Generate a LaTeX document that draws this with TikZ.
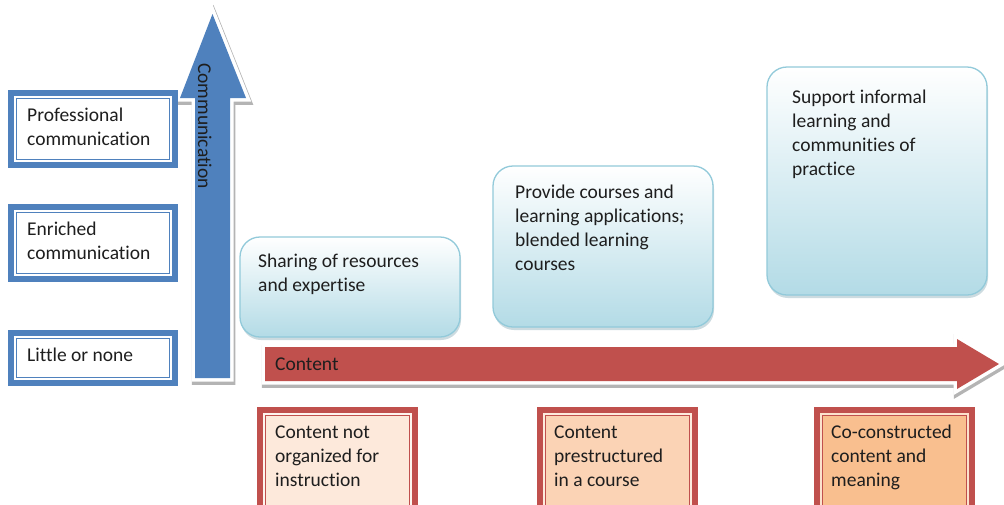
\documentclass[tikz,border=0pt]{standalone}
\usepackage{fontspec}
\setmainfont{Carlito}[Ligatures={NoCommon,NoContextual}]
\usetikzlibrary{shadows}

\definecolor{BlueC}{HTML}{4F81BD}
\definecolor{RedC}{HTML}{C0504D}
\definecolor{CyanBot}{HTML}{B3DBE6}
\definecolor{CyanEdge}{HTML}{92CADA}
\definecolor{CyanShadow}{HTML}{6E9AA8}
\definecolor{ArrowShadow}{HTML}{B4B4B4}
\definecolor{PeachA}{HTML}{FDE9DB}
\definecolor{PeachB}{HTML}{FBD3B5}
\definecolor{PeachC}{HTML}{F9BF8F}
\definecolor{TextC}{HTML}{1E1E1E}

% strut that fixes the height of a label's first line
\newcommand{\lnstrut}{\rule{0pt}{16pt}}

% outlines of the two axis arrows
\def\commarrow{(195,378) -- (195,98) -- (180,98) -- (212.5,14) -- (246,98) -- (230,98) -- (230,378) -- cycle}
\def\contarrow{(265,347) -- (957,347) -- (957,339) -- (999,364) -- (957,389) -- (957,381) -- (265,381) -- cycle}

\begin{document}
\begin{tikzpicture}[x=1pt,y=-1pt,
  txt/.style={font=\fontsize{19.5}{24}\selectfont, text=TextC, inner sep=0pt,
              anchor=north west, align=left},
  levelbox/.style={fill=BlueC, inner sep=0pt, minimum width=170pt},
  stagebox/.style={rounded corners=20pt, draw=CyanEdge, line width=1.3pt,
              top color=white, bottom color=CyanBot, inner sep=0pt,
              minimum width=220pt,
              drop shadow={shadow xshift=1pt, shadow yshift=-3pt,
                           opacity=0.35, fill=CyanShadow}},
  contentbox/.style={fill=RedC, inner sep=0pt, minimum width=161pt,
              minimum height=110pt},
  armshadow/.style={draw=ArrowShadow, fill=ArrowShadow, line width=8.5pt,
              line join=miter, shift={(1,2.5)}},
  armrim/.style={draw=white, fill=white, line width=7pt, line join=miter}
]
\fill[white] (0,0) rectangle (1004,504);
\useasboundingbox (0,0) rectangle (1004,504);
\clip (0,0) rectangle (1004,504);

% ---- vertical axis: communication ----
\draw[armshadow] \commarrow;
\draw[armrim] \commarrow;
\fill[BlueC] \commarrow;
\node[txt, rotate=-90, anchor=base west] (commlabel) at (198,63) {Communication};

% ---- horizontal axis: content ----
\draw[armshadow] \contarrow;
\draw[armrim] \contarrow;
\fill[RedC] \contarrow;
\node[txt, anchor=base west] (contlabel) at (275,370) {Content};

% ---- communication levels ----
\node[levelbox, minimum height=78pt] (pro) at (93,129) {};
\node[levelbox, minimum height=78pt] (enr) at (93,243) {};
\node[levelbox, minimum height=56pt] (lit) at (93,358) {};
\foreach \b in {pro,enr,lit}{
  \fill[white] ([shift={(6,6)}]\b.north west) rectangle ([shift={(-6,-6)}]\b.south east);
  \draw[BlueC, line width=1pt] ([shift={(8.5,8.5)}]\b.north west) rectangle ([shift={(-8.5,-8.5)}]\b.south east);
}
\node[txt] (protext) at (27,105.7) {\lnstrut Professional\\communication};
\node[txt] (enrtext) at (27,219.7) {\lnstrut Enriched\\communication};
\node[txt] (littext) at (27,345) {\lnstrut Little or none};

% ---- forms of support ----
\node[stagebox, minimum height=100pt] (share) at (350,287) {};
\node[stagebox, minimum height=161pt] (provide) at (603,246.5) {};
\node[stagebox, minimum height=228pt] (support) at (877,181) {};
\node[txt] (sharetext) at (258,251) {\lnstrut Sharing of resources\\and expertise};
\node[txt] (providetext) at (515,182) {\lnstrut Provide courses and\\learning applications;\\blended learning\\courses};
\node[txt] (supporttext) at (792,87) {\lnstrut Support informal\\learning and\\communities of\\practice};

% ---- content levels ----
\node[contentbox] (cA) at (337.5,462) {};
\node[contentbox] (cB) at (617.5,462) {};
\node[contentbox] (cC) at (894.5,462) {};
\foreach \b/\f in {cA/PeachA,cB/PeachB,cC/PeachC}{
  \fill[white!55!\f] ([shift={(6,6)}]\b.north west) rectangle ([shift={(-6,-6)}]\b.south east);
  \filldraw[draw=RedC, fill=\f, line width=1pt] ([shift={(8.5,8.5)}]\b.north west) rectangle ([shift={(-8.5,-8.5)}]\b.south east);
}
\node[txt] (cAtext) at (275,422) {\lnstrut Content not\\organized for\\instruction};
\node[txt] (cBtext) at (554,422) {\lnstrut Content\\prestructured\\in a course};
\node[txt] (cCtext) at (831,422) {\lnstrut Co-constructed\\content and\\meaning};
\end{tikzpicture}
\end{document}
